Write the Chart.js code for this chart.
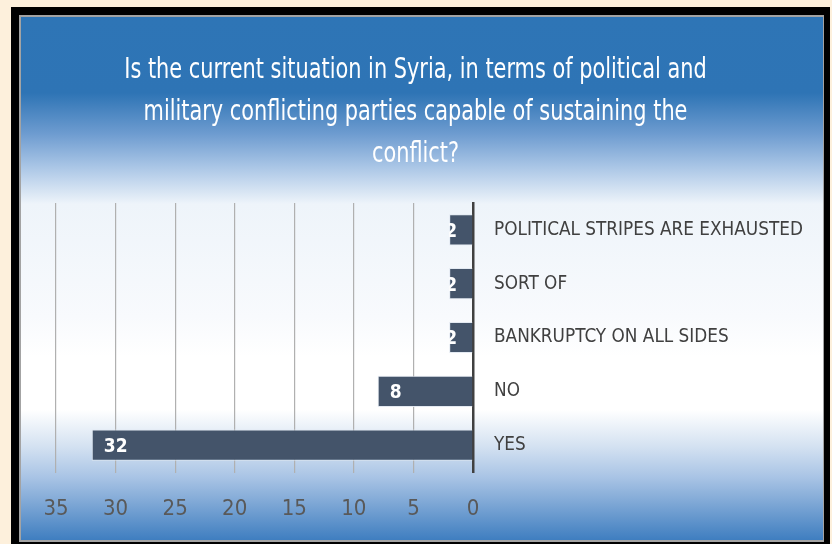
<!DOCTYPE html>
<html>
<head>
<meta charset="utf-8">
<script src="https://cdn.jsdelivr.net/npm/chart.js@4"></script>
<style>
  html, body { margin: 0; padding: 0; width: 832px; height: 544px; overflow: hidden; background: #fdf0dc; }
  #frame { position: absolute; left: 11px; top: 7px; width: 819px; height: 540px; background: #000; }
  #edge { position: absolute; left: 19px; top: 15px; width: 805px; height: 527px; background: #a3a3a3; }
  #panel {
    position: absolute; left: 21px; top: 17px; width: 802px; height: 523px;
    background: linear-gradient(to bottom,
      #2e75b6 0px, #2e74b5 76px, #6e9cd0 117px, #aac6e6 150px, #eef4fa 187px,
      #f8fafd 300px, #ffffff 340px, #ffffff 393px, #d3e1f1 430px, #a9c4e5 460px,
      #85acd8 482px, #3f7ec0 523px);
  }
  canvas { position: absolute; left: 0; top: 0; }
</style>
</head>
<body>
<div id="frame"></div>
<div id="edge"></div>
<div id="panel"><canvas id="chart" width="802" height="523"></canvas></div>
<script>
const titleLines = [
  'Is the current situation in Syria, in terms of political and',
  'military conflicting parties capable of sustaining the',
  'conflict?'
];
const categories = [
  'POLITICAL STRIPES ARE EXHAUSTED',
  'SORT OF',
  'BANKRUPTCY ON ALL SIDES',
  'NO',
  'YES'
];
const responses = [2, 2, 2, 8, 32];
const xTicks = [0, 5, 10, 15, 20, 25, 30, 35];

const FONT = "'Liberation Sans Narrow', 'DejaVu Sans Condensed', 'Liberation Sans', sans-serif";

// Three-line heading, set in a narrow face and centred over the panel
const condensedTitle = {
  id: 'condensedTitle',
  afterDraw(chart) {
    const ctx = chart.ctx;
    ctx.save();
    ctx.font = '29px ' + FONT;
    ctx.fillStyle = '#ffffff';
    ctx.textAlign = 'center';
    ctx.textBaseline = 'alphabetic';
    titleLines.forEach((line, i) => {
      ctx.save();
      ctx.translate(394.5, 61 + i * 42);
      ctx.scale(0.8, 1);
      ctx.fillText(line, 0, 0);
      ctx.restore();
    });
    ctx.restore();
  }
};

// White value labels written inside the outer end of each bar
const valueLabels = {
  id: 'valueLabels',
  afterDatasetsDraw(chart) {
    const ctx = chart.ctx;
    const meta = chart.getDatasetMeta(0);
    ctx.save();
    ctx.font = 'bold 19px ' + FONT;
    ctx.fillStyle = '#ffffff';
    ctx.textBaseline = 'middle';
    meta.data.forEach((bar, i) => {
      const p = bar.getProps(['x', 'y', 'base', 'height'], true);
      const text = String(responses[i]);
      const left = Math.min(p.x, p.base);
      const right = Math.max(p.x, p.base);
      const top = p.y - p.height / 2;
      const w = ctx.measureText(text).width;
      ctx.save();
      ctx.beginPath();
      ctx.rect(left, top, right - left, p.height);
      ctx.clip();
      if (right - left > w + 24) {
        ctx.textAlign = 'left';
        ctx.fillText(text, left + 12, p.y + 2);
      } else {
        ctx.textAlign = 'right';
        ctx.fillText(text, left + 8, p.y + 2);
      }
      ctx.restore();
    });
    ctx.restore();
  }
};

new Chart(document.getElementById('chart'), {
  type: 'bar',
  data: {
    labels: categories,
    datasets: [{
      data: responses,
      backgroundColor: '#44546a',
      borderColor: 'rgba(225,232,241,0.9)',
      borderWidth: 1,
      barPercentage: 0.58,
      categoryPercentage: 1
    }]
  },
  options: {
    indexAxis: 'y',
    responsive: false,
    animation: false,
    layout: { padding: { left: 35, right: 0, top: 186, bottom: 0 } },
    plugins: {
      legend: { display: false },
      tooltip: { enabled: false },
      title: { display: false }
    },
    scales: {
      x: {
        type: 'linear',
        position: 'bottom',
        reverse: true,
        min: 0,
        max: 35,
        afterBuildTicks: s => { s.ticks = xTicks.map(v => ({ value: v })); },
        afterFit: s => { s.height = 68; },
        grid: { color: '#b0b0b0', lineWidth: 1.2, drawTicks: true, tickLength: 1 },
        border: { display: false },
        ticks: { color: '#595959', font: { family: FONT, size: 22 }, padding: 23, maxRotation: 0 }
      },
      y: {
        position: 'right',
        afterFit: s => { s.width = 350; },
        grid: { display: false, drawTicks: false },
        border: { display: true, color: '#404040', width: 2.5 },
        ticks: { color: '#404040', font: { family: FONT, size: 18.8 }, padding: 21 }
      }
    }
  },
  plugins: [valueLabels, condensedTitle]
});
</script>
</body>
</html>
